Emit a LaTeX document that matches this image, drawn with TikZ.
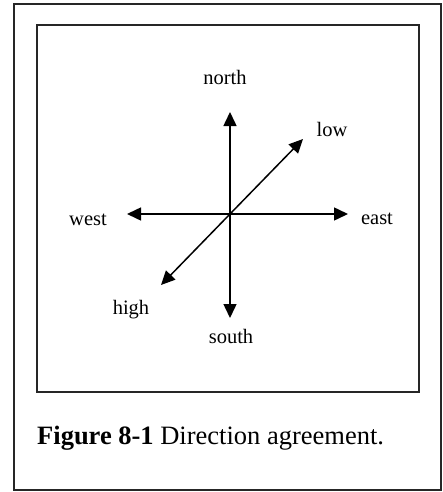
\documentclass[tikz,border=0pt]{standalone}
\usepackage{fontspec}
\setmainfont{Liberation Serif}
\usetikzlibrary{arrows.meta}
\begin{document}
\begin{tikzpicture}[x=1pt,y=-1pt,
  frame/.style={draw=black!85,line width=1.6pt},
  dirarrow/.style={line width=1.5pt,-{Triangle[length=14pt,width=13pt]}},
  lbl/.style={font=\fontsize{20.5}{24}\selectfont,inner sep=0pt,anchor=base}]
\useasboundingbox (0,0) rectangle (443,492);
\draw[frame] (14,4) rectangle (441,490);
\draw[frame] (37,25) rectangle (419,392);
\coordinate (c) at (230,214);
\coordinate (n) at (230,112);
\coordinate (s) at (230,318);
\coordinate (w) at (127,214);
\coordinate (e) at (348,214);
\coordinate (lo) at (303,139);
\coordinate (hi) at (161,285);
\draw[dirarrow] (c) -- (n);
\draw[dirarrow] (c) -- (s);
\draw[dirarrow] (c) -- (w);
\draw[dirarrow] (c) -- (e);
\draw[dirarrow] (c) -- (lo);
\draw[dirarrow] (c) -- (hi);
\node[lbl] (ln) at (225,85) {north};
\node[lbl] (ll) at (332,136) {low};
\node[lbl] (lw) at (88,225) {west};
\node[lbl] (le) at (377,224) {east};
\node[lbl] (lh) at (131,314) {high};
\node[lbl] (ls) at (231,343) {south};
\node[anchor=base west,inner sep=0pt,font=\fontsize{26.5}{30}\selectfont] (cap) at (37,444) {\textbf{Figure 8-1} Direction agreement.};
\end{tikzpicture}
\end{document}
